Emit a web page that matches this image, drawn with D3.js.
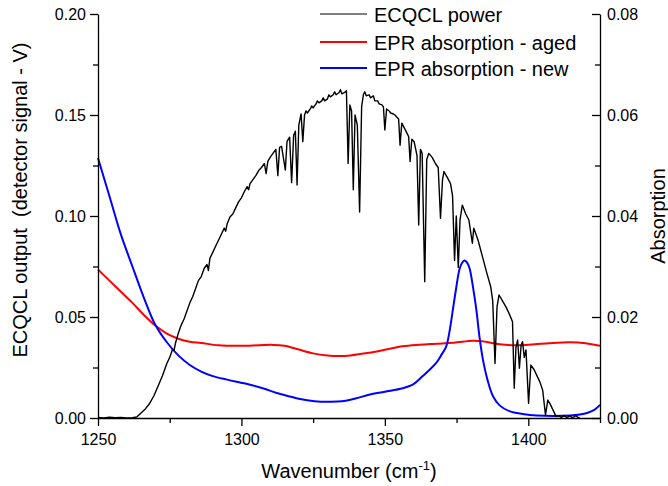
<!DOCTYPE html>
<html>
<head>
<meta charset="utf-8">
<script src="https://cdnjs.cloudflare.com/ajax/libs/d3/7.8.5/d3.min.js"></script>
<style>
  body { margin: 0; background: #fff; }
  text { font-family: "Liberation Sans", Arial, sans-serif; }
</style>
</head>
<body>
<script>
const width = 668;
const height = 486;

// ECQCL power, [wavenumber, detector signal V]
const ecqclPower = [
  [1250, 0.0003], [1252, 0.0000], [1254, 0.0004], [1256, 0.0001], [1258, 0.0003],
  [1260, 0.0000], [1262, 0.0002], [1263.5, 0.0005], [1265, 0.0025], [1266.5, 0.0045],
  [1268, 0.0072], [1269.5, 0.011], [1271, 0.016], [1272.5, 0.021], [1274, 0.027],
  [1275, 0.030], [1276, 0.034], [1276.5, 0.0335], [1277, 0.037], [1278, 0.042], [1279, 0.046],
  [1280, 0.049], [1281, 0.053], [1282, 0.057], [1283, 0.060], [1284, 0.064],
  [1285, 0.068], [1286, 0.070], [1287, 0.074], [1288, 0.076], [1288.5, 0.073],
  [1289, 0.079], [1290, 0.082], [1291, 0.085], [1292, 0.088], [1293, 0.091],
  [1294, 0.094], [1294.5, 0.0925], [1295, 0.096], [1296, 0.0995], [1297, 0.101], [1298, 0.104],
  [1299, 0.107], [1300, 0.109], [1301, 0.112], [1302, 0.1145], [1302.5, 0.113], [1303, 0.116],
  [1304, 0.118], [1305, 0.120], [1306, 0.1225], [1307, 0.124], [1308, 0.126],
  [1308.6, 0.121], [1309.2, 0.127], [1310, 0.129], [1311, 0.131], [1312, 0.133],
  [1312.7, 0.120], [1313.3, 0.134], [1314, 0.1345], [1315.3, 0.1228], [1315.9, 0.137],
  [1316.8, 0.139], [1317.5, 0.1165], [1318.2, 0.140], [1318.8, 0.142], [1319.4, 0.1153],
  [1320.0, 0.145], [1320.8, 0.1505], [1321.4, 0.1368], [1322, 0.150], [1322.5, 0.152],
  [1323, 0.151], [1324, 0.153], [1324.5, 0.1545], [1325, 0.1535], [1326, 0.1555],
  [1326.5, 0.157], [1327, 0.156], [1328, 0.157], [1328.5, 0.1585], [1329, 0.157],
  [1330, 0.158], [1330.5, 0.160], [1331, 0.159], [1332, 0.160], [1332.5, 0.1615],
  [1333, 0.1600], [1334, 0.161], [1334.5, 0.1625], [1335, 0.1605], [1336, 0.1612],
  [1336.6, 0.162], [1337.2, 0.126], [1337.8, 0.155], [1338.4, 0.152], [1339, 0.113],
  [1339.6, 0.150], [1340.4, 0.145], [1341.2, 0.102], [1341.9, 0.154], [1342.5, 0.160],
  [1343, 0.1615], [1343.5, 0.1595], [1344.5, 0.160], [1345, 0.1585], [1346, 0.1595],
  [1346.5, 0.157], [1347.5, 0.157], [1348, 0.1555], [1349, 0.155], [1349.5, 0.154],
  [1350, 0.1426], [1350.6, 0.153], [1351.5, 0.152], [1352, 0.151], [1353, 0.1505],
  [1353.5, 0.150], [1354.8, 0.148], [1355.3, 0.135], [1355.9, 0.146], [1357, 0.143],
  [1358.3, 0.1393], [1358.8, 0.127], [1359.4, 0.138], [1360.2, 0.1368], [1361.2, 0.130],
  [1361.8, 0.0955], [1362.4, 0.133], [1363, 0.131], [1363.9, 0.0675], [1364.6, 0.128],
  [1365.3, 0.131], [1366.5, 0.129], [1367.6, 0.126], [1368.6, 0.124], [1369.4, 0.0989],
  [1370.1, 0.118], [1370.6, 0.122], [1371.8, 0.119], [1372.9, 0.116], [1373.6, 0.110],
  [1374.3, 0.078], [1374.9, 0.100], [1375.6, 0.0745], [1376.2, 0.098], [1377, 0.1054],
  [1378.2, 0.101], [1379.3, 0.098], [1380.5, 0.0865], [1381, 0.094], [1382.5, 0.088],
  [1384, 0.080], [1385.5, 0.072], [1386.9, 0.065], [1387.6, 0.058], [1388.4, 0.027],
  [1389.1, 0.055], [1389.8, 0.0609], [1391, 0.058], [1392.2, 0.055], [1393.3, 0.0518],
  [1394.5, 0.0477], [1395.1, 0.0147], [1395.7, 0.035], [1396.3, 0.0386], [1396.9, 0.0246],
  [1397.5, 0.036], [1398, 0.0378], [1398.6, 0.030], [1399.2, 0.0337], [1400.1, 0.0073],
  [1400.9, 0.0262], [1402, 0.024], [1403, 0.021], [1404, 0.018], [1405, 0.0139],
  [1406, 0.0015], [1406.8, 0.0089], [1407.6, 0.007], [1408.6, 0.004], [1409.7, 0.0007],
  [1410.5, 0.001], [1411.5, 0.0003], [1412.5, 0.0012], [1413.5, 0.0002], [1414.5, 0.0010],
  [1415.5, 0.0001], [1416.5, 0.0011], [1417.5, 0.0002], [1418, 0.0]
];

// EPR absorption - aged, [wavenumber, absorption]
const eprAged = [
  [1250, 0.0294], [1254, 0.0272], [1258, 0.0250], [1262, 0.0228], [1266, 0.0204],
  [1270, 0.0183], [1274, 0.0167], [1278, 0.0157], [1282, 0.0151], [1286, 0.01485],
  [1292, 0.0144], [1299.8, 0.0143], [1306, 0.0144], [1311, 0.01448], [1315, 0.0143],
  [1319.7, 0.0136], [1325, 0.0128], [1330, 0.0124], [1334, 0.0123], [1338, 0.0124],
  [1344.5, 0.0129], [1350, 0.0135], [1356.2, 0.0142], [1362, 0.0145], [1367.9, 0.0147],
  [1374, 0.0149], [1380.7, 0.0153], [1384, 0.0152], [1387.7, 0.0148], [1392, 0.0145],
  [1395.9, 0.0144], [1400, 0.0145], [1407, 0.0148], [1414.6, 0.0150], [1420, 0.0148],
  [1425, 0.0143]
];

// EPR absorption - new
const eprNew = [
  [1250, 0.0515], [1254, 0.0439], [1258, 0.0363], [1262, 0.0300], [1266, 0.0238],
  [1270, 0.0184], [1274, 0.0150], [1278, 0.0124], [1282, 0.0105], [1286, 0.0092],
  [1290, 0.0083], [1295, 0.0076], [1299.8, 0.0070], [1303, 0.0066], [1308, 0.0058],
  [1312, 0.0050], [1317.3, 0.0042], [1320, 0.0038], [1325.5, 0.0033], [1331, 0.0032],
  [1335, 0.0033], [1340, 0.0039], [1344.5, 0.0046], [1350, 0.0052], [1356.2, 0.0059],
  [1360, 0.0067], [1363.2, 0.0083], [1365.5, 0.0095], [1367.9, 0.0109], [1369.5, 0.0123],
  [1371.4, 0.0142], [1372.5, 0.0170], [1373.7, 0.0214], [1374.8, 0.0255], [1376, 0.0294],
  [1377, 0.0308], [1377.8, 0.0312], [1378.6, 0.0308], [1379.5, 0.0297], [1380.7, 0.0260],
  [1381.9, 0.0214], [1383, 0.0160], [1384.2, 0.0115], [1385.8, 0.0075], [1387.7, 0.0043],
  [1390, 0.0025], [1393.6, 0.0013], [1398, 0.0008], [1402.9, 0.0005], [1414.6, 0.0005],
  [1418, 0.0007], [1420.5, 0.0010], [1423, 0.0016], [1425, 0.0026]
];

const xMajor = [1250, 1300, 1350, 1400];
const xMinor = [1275, 1325, 1375, 1425];
const yLeftMajor = [0, 0.05, 0.10, 0.15, 0.20];
const yLeftMinor = [0.025, 0.075, 0.125, 0.175];
const yRightMajor = [0, 0.02, 0.04, 0.06, 0.08];
const yRightMinor = [0.01, 0.03, 0.05, 0.07];

const legendItems = [
  { label: "ECQCL power", color: "#000", w: 1 },
  { label: "EPR absorption - aged", color: "#f00", w: 2 },
  { label: "EPR absorption - new", color: "#00f", w: 2 }
];

const plotLeft = 98, plotRight = 600, plotTop = 14, plotBottom = 418;

var x = d3.scaleLinear().domain([1250, 1425]).range([plotLeft, plotRight]);
var yL = d3.scaleLinear().domain([0, 0.20]).range([plotBottom, plotTop]);
var yR = d3.scaleLinear().domain([0, 0.08]).range([plotBottom, plotTop]);

const svg = d3.select("body")
  .append("svg")
  .attr("width", width)
  .attr("height", height);

// curves
var lineL = d3.line().x(d => x(d[0])).y(d => yL(d[1]));
var lineR = d3.line().x(d => x(d[0])).y(d => yR(d[1])).curve(d3.curveCatmullRom);

svg.append("path").datum(eprAged)
  .attr("d", lineR).attr("fill", "none").attr("stroke", "#f00").attr("stroke-width", 2);
svg.append("path").datum(eprNew)
  .attr("d", lineR).attr("fill", "none").attr("stroke", "#00f").attr("stroke-width", 2);
svg.append("path").datum(ecqclPower)
  .attr("d", lineL).attr("fill", "none").attr("stroke", "#000").attr("stroke-width", 1.4)
  .attr("stroke-linejoin", "round");

function styleAxis(g) {
  g.selectAll("text").style("font-size", "16px").attr("fill", "#000");
  g.selectAll("line").attr("stroke", "#000").attr("stroke-width", 1.3);
  g.select(".domain").attr("stroke", "#000").attr("stroke-width", 1.3);
}

// bottom
svg.append("g").attr("transform", `translate(0,${plotBottom})`)
  .call(d3.axisBottom(x).tickValues(xMajor).tickFormat(d3.format("d"))
    .tickSize(8).tickSizeOuter(0).tickPadding(8))
  .call(styleAxis);
svg.append("g").attr("transform", `translate(0,${plotBottom})`)
  .call(d3.axisBottom(x).tickValues(xMinor).tickFormat("").tickSize(5))
  .call(g => g.select(".domain").remove())
  .call(styleAxis);

// left
svg.append("g").attr("transform", `translate(${plotLeft},0)`)
  .call(d3.axisLeft(yL).tickValues(yLeftMajor).tickFormat(d3.format(".2f"))
    .tickSize(8).tickSizeOuter(0).tickPadding(4))
  .call(styleAxis);
svg.append("g").attr("transform", `translate(${plotLeft},0)`)
  .call(d3.axisLeft(yL).tickValues(yLeftMinor).tickFormat("").tickSize(5))
  .call(g => g.select(".domain").remove())
  .call(styleAxis);

// right, ticks point inward
svg.append("g").attr("transform", `translate(${plotRight},0)`)
  .call(d3.axisRight(yR).tickValues(yRightMajor).tickFormat(d3.format(".2f"))
    .tickSize(-8).tickSizeOuter(0).tickPadding(7))
  .call(styleAxis);
svg.append("g").attr("transform", `translate(${plotRight},0)`)
  .call(d3.axisRight(yR).tickValues(yRightMinor).tickFormat("").tickSize(-5))
  .call(g => g.select(".domain").remove())
  .call(styleAxis);

// titles
var xt = svg.append("text")
  .attr("x", (plotLeft + plotRight) / 2).attr("y", 478)
  .attr("text-anchor", "middle").style("font-size", "20px");
xt.append("tspan").text("Wavenumber (cm");
xt.append("tspan").attr("dy", -8).style("font-size", "13px").text("-1");
xt.append("tspan").attr("dy", 8).text(")");

svg.append("text")
  .attr("transform", "translate(27,200) rotate(-90)")
  .attr("text-anchor", "middle").style("font-size", "20px").style("white-space", "pre")
  .text("ECQCL output  (detector signal - V)");

svg.append("text")
  .attr("transform", "translate(665,216) rotate(-90)")
  .attr("text-anchor", "middle").style("font-size", "20px")
  .text("Absorption");

// legend
var legend = svg.append("g").selectAll("g")
  .data(legendItems)
  .enter().append("g")
  .attr("transform", (d, i) => `translate(0,${[14, 42, 68][i]})`);
legend.append("line")
  .attr("x1", 320).attr("x2", 367)
  .attr("stroke", d => d.color).attr("stroke-width", d => d.w);
legend.append("text")
  .attr("x", 374).attr("y", 7.5)
  .style("font-size", "20px")
  .text(d => d.label);
</script>
</body>
</html>
